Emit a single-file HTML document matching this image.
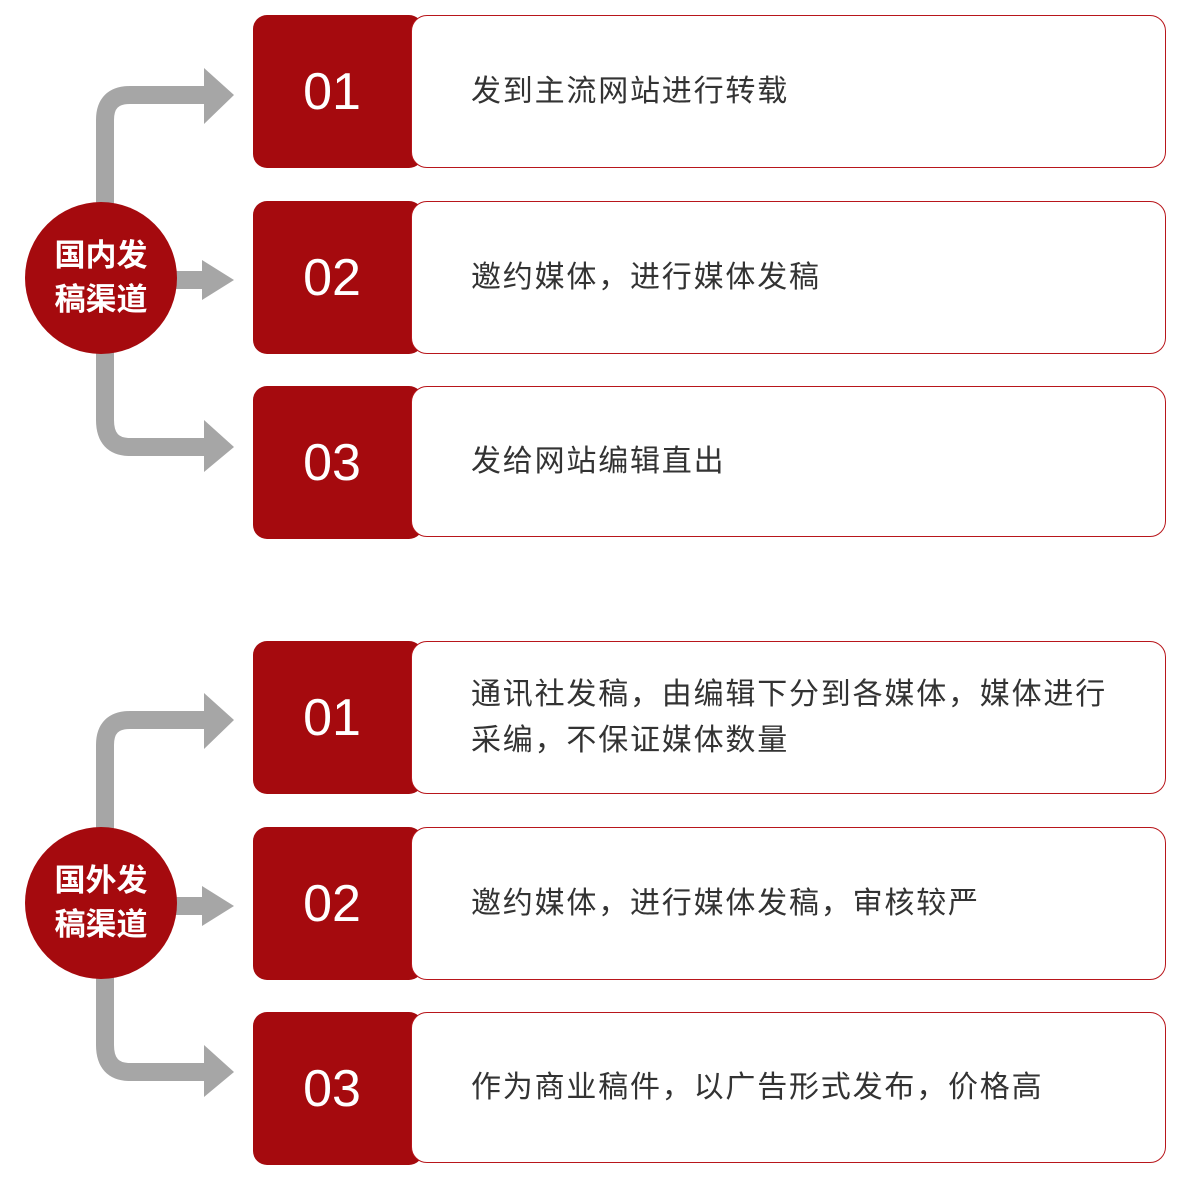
<!DOCTYPE html>
<html><head><meta charset="utf-8"><style>
body{margin:0;width:1200px;height:1200px;background:#fff;position:relative;overflow:hidden;font-family:"Liberation Sans","Noto Sans CJK SC",sans-serif}
.r{position:absolute;left:253px;width:170px;height:153px;background:#a50a0e;border-radius:14px;color:#fff;font-size:52px;display:flex;align-items:center;justify-content:center;padding-right:12px;box-sizing:border-box}
.w{position:absolute;left:411px;width:755px;height:153px;border:1.5px solid #b8161b;border-radius:16px;box-sizing:border-box;background:#fff;color:#333;font-size:30px;letter-spacing:1.8px;line-height:46px;padding-left:59px;display:flex;align-items:center}
.c{position:absolute;width:152px;height:152px;border-radius:50%;background:#a50a0e;color:#fff;font-weight:bold;font-size:31px;line-height:44px;text-align:center;display:flex;align-items:center;justify-content:center}
</style></head><body>
<svg width="1200" height="1200" style="position:absolute;left:0;top:0">
<g fill="none" stroke="#a6a6a6" stroke-width="18">
<path d="M105 205 V120 Q105 95 130 95 H210"/>
<path d="M170 280 H210"/>
<path d="M105 350 V420 Q105 447 130 447 H210"/>
<path d="M105 830 V745 Q105 720 130 720 H210"/>
<path d="M170 906 H210"/>
<path d="M105 975 V1045 Q105 1072 130 1072 H210"/>
</g>
<g fill="#a6a6a6">
<polygon points="204,68 234,95 204,124"/>
<polygon points="202,260 234,280 202,300"/>
<polygon points="204,420 234,447 204,472"/>
<polygon points="204,693 234,720 204,749"/>
<polygon points="202,886 234,906 202,926"/>
<polygon points="204,1045 234,1072 204,1097"/>
</g>
</svg>
<div class="c" style="left:25px;top:202px">国内发<br>稿渠道</div>
<div class="c" style="left:25px;top:827px">国外发<br>稿渠道</div>

<div class="r" style="top:15px">01</div><div class="w" style="top:15px">发到主流网站进行转载</div>
<div class="r" style="top:201px">02</div><div class="w" style="top:201px">邀约媒体，进行媒体发稿</div>
<div class="r" style="top:386px">03</div><div class="w" style="top:386px;height:151px">发给网站编辑直出</div>
<div class="r" style="top:641px">01</div><div class="w" style="top:641px">通讯社发稿，由编辑下分到各媒体，媒体进行<br>采编，不保证媒体数量</div>
<div class="r" style="top:827px">02</div><div class="w" style="top:827px">邀约媒体，进行媒体发稿，审核较严</div>
<div class="r" style="top:1012px">03</div><div class="w" style="top:1012px;height:151px">作为商业稿件，以广告形式发布，价格高</div>
</body></html>
